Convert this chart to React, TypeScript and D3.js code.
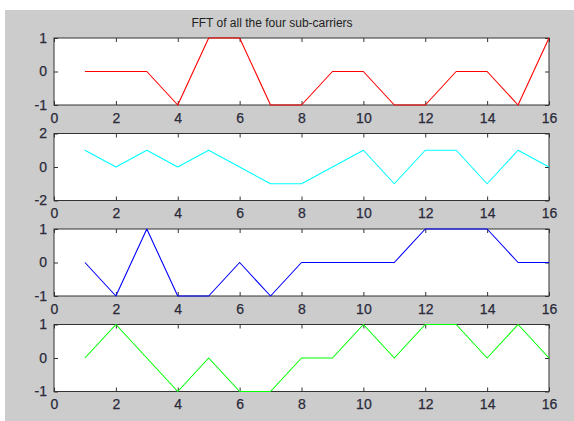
import React from "react"
import * as d3 from "d3"

// sample index 1..16
const samples = d3.range(1, 17)

const redSeries = [0, 0, 0, -1, 1, 1, -1, -1, 0, 0, -1, -1, 0, 0, -1, 1]
const cyanSeries = [1, 0, 1, 0, 1, 0, -1, -1, 0, 1, -1, 1, 1, -1, 1, 0]
const blueSeries = [0, -1, 1, -1, -1, 0, -1, 0, 0, 0, 0, 1, 1, 1, 0, 0]
const greenSeries = [0, 1, 0, -1, 0, -1, -1, 0, 0, 1, 0, 1, 1, 0, 1, 0]

const xTicks = [0, 2, 4, 6, 8, 10, 12, 14, 16]
const yTicksSmall = [-1, 0, 1]
const yTicksWide = [-2, 0, 2]

const panels = [
  { values: redSeries, color: "#ff0000", domain: [-1, 1], ticks: yTicksSmall },
  { values: cyanSeries, color: "#00ffff", domain: [-2, 2], ticks: yTicksWide },
  { values: blueSeries, color: "#0000ff", domain: [-1, 1], ticks: yTicksSmall },
  { values: greenSeries, color: "#00ff00", domain: [-1, 1], ticks: yTicksSmall },
]

export default function App() {
  const ref = React.useRef<SVGSVGElement>(null)

  React.useEffect(() => {
    const width = 574
    const height = 421
    const left = 54
    const right = 549
    const tops = [38, 133.5, 229, 324.5]
    const panelH = 67
    const tickLen = 4
    const fmt = (d: any) => String(d)

    const svg = d3.select(ref.current)
    svg.selectAll("*").remove()
    svg.attr("width", width).attr("height", height)

    svg.append("rect").attr("width", width).attr("height", height).attr("fill", "#ffffff")
    // figure background
    svg.append("rect")
      .attr("x", 5).attr("y", 10)
      .attr("width", width - 5).attr("height", height - 10)
      .attr("fill", "#cccccc")

    const x = d3.scaleLinear().domain([0, 16]).range([left, right])

    svg.append("text")
      .attr("x", 272).attr("y", 27)
      .attr("text-anchor", "middle")
      .attr("font-family", "Liberation Sans, Arial, sans-serif")
      .attr("font-size", 12)
      .attr("fill", "#222")
      .text("FFT of all the four sub-carriers")

    panels.forEach((p, i) => {
      const top = tops[i]
      const y = d3.scaleLinear().domain(p.domain).range([top + panelH, top])
      const g = svg.append("g")

      g.append("rect")
        .attr("x", left).attr("y", top)
        .attr("width", right - left).attr("height", panelH)
        .attr("fill", "#ffffff")
        .attr("stroke", "#333")
        .attr("stroke-width", 1)

      const font = (sel: any) => sel
        .attr("font-family", "Liberation Sans, Arial, sans-serif")
        .attr("font-size", 14)
        .attr("fill", "#2a2a3a")
        .attr("stroke", "#2a2a3a")
        .attr("stroke-width", 0.25)

      // x axis (ticks inside, top + bottom)
      g.append("g")
        .attr("transform", `translate(0,${top + panelH})`)
        .call(d3.axisBottom(x).tickValues(xTicks).tickFormat(fmt).tickSize(-tickLen).tickPadding(8).tickSizeOuter(0))
        .call((a: any) => a.select(".domain").remove())
        .call((a: any) => a.selectAll(".tick line").attr("stroke", "#333"))
        .call((a: any) => font(a.selectAll(".tick text")).attr("dy", "0.71em"))
        .attr("font-size", null).attr("font-family", null)

      g.append("g")
        .attr("transform", `translate(0,${top})`)
        .call(d3.axisTop(x).tickValues(xTicks).tickSize(-tickLen).tickFormat(() => "").tickSizeOuter(0))
        .call((a: any) => a.select(".domain").remove())
        .call((a: any) => a.selectAll(".tick line").attr("stroke", "#333"))

      // y axis left + right
      g.append("g")
        .attr("transform", `translate(${left},0)`)
        .call(d3.axisLeft(y).tickValues(p.ticks).tickFormat(fmt).tickSize(-tickLen).tickPadding(7).tickSizeOuter(0))
        .call((a: any) => a.select(".domain").remove())
        .call((a: any) => a.selectAll(".tick line").attr("stroke", "#333"))
        .call((a: any) => font(a.selectAll(".tick text")))
        .attr("font-size", null).attr("font-family", null)

      g.append("g")
        .attr("transform", `translate(${right},0)`)
        .call(d3.axisRight(y).tickValues(p.ticks).tickSize(-tickLen).tickFormat(() => "").tickSizeOuter(0))
        .call((a: any) => a.select(".domain").remove())
        .call((a: any) => a.selectAll(".tick line").attr("stroke", "#333"))

      const line = d3.line<number>()
        .x((d, j) => x(samples[j]))
        .y((d) => y(d))

      g.append("path")
        .datum(p.values)
        .attr("fill", "none")
        .attr("stroke", p.color)
        .attr("stroke-width", 1.1)
        .attr("stroke-linejoin", "round")
        .attr("d", line)
    })
  }, [])

  return <svg ref={ref} style={{ position: "absolute", left: 0, top: 0, display: "block" }}></svg>
}
